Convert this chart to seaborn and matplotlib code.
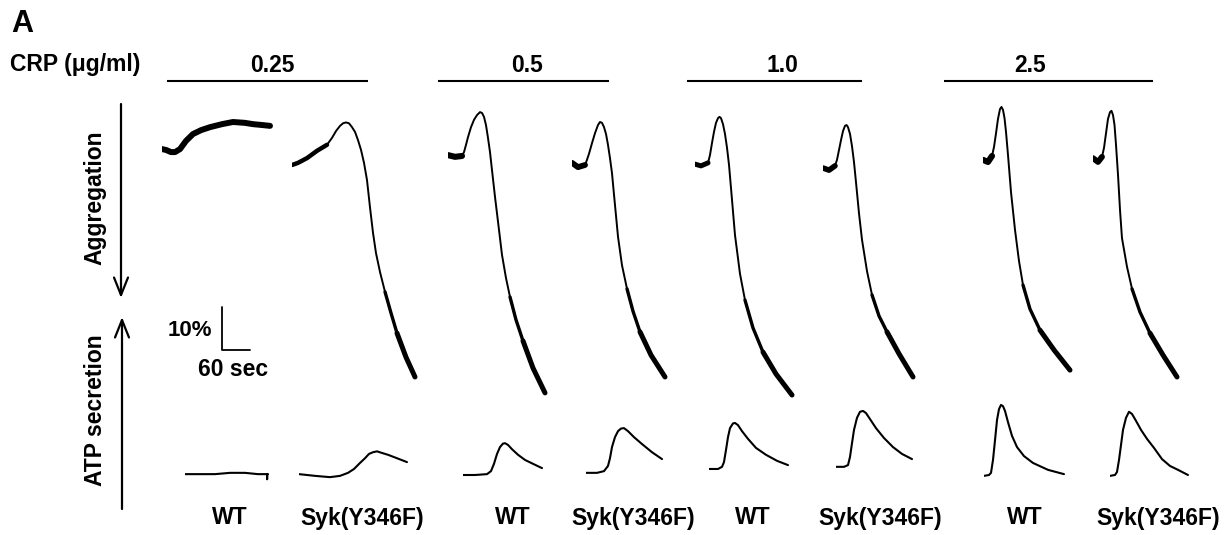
import numpy as np
import pandas as pd
import matplotlib
matplotlib.use("Agg")
import matplotlib.pyplot as plt
import seaborn as sns

# ---------------- data ----------------
concentrations = ["0.25", "0.5", "1.0", "2.5"]
genotypes = ["WT", "Syk(Y346F)"]

# Aggregation traces: time (s) and light-transmission change (%; positive = aggregation)
agg_wt_025_t = [0, 8.6, 19.3, 27.9, 38.6, 51.4, 66.4, 83.6, 102.9, 128.6, 152.1, 177.9, 195.0, 214.3, 231.4]
agg_wt_025_v = [-3.7, -3.5, -3.0, -3.0, -3.7, -5.6, -7.2, -8.1, -8.8, -9.5, -10.0, -9.8, -9.5, -9.3, -9.1]
agg_syk_025_t = [0, 12.9, 32.1, 53.6, 75.0, 85.7, 94.3, 102.9, 109.3, 115.7, 122.1, 128.6, 135.0,
                 141.4, 147.9, 154.3, 160.7, 167.1, 173.6, 180.0, 188.6, 199.3, 212.1, 225.0, 244.3, 263.6]
agg_syk_025_v = [0, -0.5, -1.6, -3.3, -4.7, -6.3, -7.9, -9.1, -9.7, -9.9, -9.7, -8.8, -7.7,
                 -5.8, -3.5, -0.5, 3.5, 9.8, 15.8, 20.5, 24.9, 29.5, 34.4, 39.1, 44.7, 49.3]
agg_wt_05_t = [0, 15.0, 30.0, 34.3, 38.6, 42.9, 49.3, 55.7, 62.1, 68.6, 72.9, 77.1, 81.4, 85.7,
               90.0, 94.3, 100.7, 109.3, 115.7, 124.3, 132.9, 145.7, 160.7, 182.1, 207.9]
agg_wt_05_v = [-2.3, -1.9, -2.1, -3.0, -4.7, -6.5, -8.8, -10.5, -11.6, -12.3, -12.1, -11.2, -9.3, -6.3,
               -3.0, 1.2, 7.4, 15.1, 20.9, 26.3, 30.7, 36.0, 40.9, 47.2, 53.0]
agg_syk_05_t = [0, 12.9, 27.9, 32.1, 36.4, 42.9, 49.3, 55.7, 60.0, 64.3, 68.6, 72.9, 77.1, 81.4,
                85.7, 92.1, 98.6, 107.1, 117.9, 130.7, 145.7, 169.3, 199.3]
agg_syk_05_v = [-0.5, 0.5, 0, -1.2, -2.6, -5.1, -7.4, -9.3, -10.0, -9.8, -8.8, -7.2, -4.7, -1.6,
                1.9, 9.3, 16.7, 23.3, 28.8, 34.0, 38.8, 44.2, 49.3]
agg_wt_10_t = [0, 12.9, 27.9, 32.1, 36.4, 40.7, 45.0, 49.3, 52.5, 55.7, 60.0, 64.3, 68.6, 72.9,
               77.1, 85.7, 96.4, 107.1, 124.3, 145.7, 173.6, 207.9]
agg_wt_10_v = [-0.2, 0.2, -0.5, -2.3, -5.1, -7.7, -9.8, -10.9, -11.2, -10.9, -9.5, -7.2, -4.0, 0,
               5.3, 16.3, 25.3, 31.4, 37.9, 43.5, 48.6, 53.5]
agg_syk_10_t = [0, 12.9, 25.7, 30.0, 34.3, 38.6, 42.9, 47.1, 50.4, 53.6, 57.9, 62.1, 66.4, 70.7,
                77.1, 83.6, 94.3, 105.0, 120.0, 137.1, 162.9, 192.9]
agg_syk_10_v = [0.7, 1.2, 0.2, -1.2, -3.5, -5.8, -7.9, -9.1, -9.3, -8.8, -7.2, -4.4, -0.7, 4.0,
                11.2, 17.4, 24.7, 30.2, 35.1, 38.8, 43.9, 49.3]
agg_wt_25_t = [0, 10.7, 19.3, 23.6, 27.9, 32.1, 36.4, 39.6, 42.9, 46.1, 49.3, 53.6, 60.0, 68.6,
               77.1, 85.7, 100.7, 122.1, 152.1, 186.4]
agg_wt_25_v = [-1.2, -0.7, -2.1, -4.2, -7.4, -10.7, -13.0, -13.5, -12.8, -10.9, -7.7, -2.3, 6.3, 15.1,
               22.3, 27.9, 33.5, 38.4, 43.0, 47.7]
agg_syk_25_t = [0, 10.7, 19.3, 23.6, 27.9, 32.1, 36.4, 39.6, 42.9, 46.1, 49.3, 53.6, 57.9, 62.1,
                72.9, 83.6, 100.7, 122.1, 150.0, 180.0]
agg_syk_25_v = [-1.6, -0.7, -1.9, -4.0, -7.4, -10.7, -12.3, -12.6, -11.6, -9.3, -4.7, 2.3, 10.5, 17.0,
                23.7, 28.8, 34.2, 39.1, 44.2, 49.3]

# ATP secretion traces: time (s) and luminescence (arbitrary units)
atp_wt_025_t = [0, 32.1, 64.3, 96.4, 128.6, 156.4, 175.7, 176.0, 176.3, 177.9]
atp_wt_025_v = [0.2, 0.2, 0.2, 0.5, 0.5, 0.2, 0.2, -1.0, 0.2, 0.2]
atp_syk_025_t = [0, 34.3, 66.4, 87.9, 105.0, 117.9, 130.7, 141.4, 150.0, 158.6, 167.1, 175.7, 190.7, 210.0, 231.4]
atp_syk_025_v = [0.2, -0.2, -0.5, -0.2, 0.5, 1.4, 2.8, 3.9, 4.9, 5.3, 5.5, 5.2, 4.7, 3.9, 3.0]
atp_wt_05_t = [0, 25.7, 51.4, 60.0, 66.4, 72.9, 79.3, 85.7, 90.0, 96.4, 105.0, 117.9, 132.9, 150.0, 169.3]
atp_wt_05_v = [0, 0, 0.2, 0.9, 2.6, 4.9, 6.5, 7.3, 7.4, 7.0, 6.0, 4.7, 3.5, 2.6, 1.6]
atp_syk_05_t = [0, 23.6, 38.6, 47.1, 51.4, 55.7, 62.1, 68.6, 75.0, 81.4, 90.0, 102.9, 120.0, 141.4, 162.9]
atp_syk_05_v = [0.5, 0.5, 0.9, 2.1, 3.9, 6.5, 8.8, 10.2, 10.8, 10.9, 10.2, 8.8, 7.2, 5.3, 3.7]
atp_wt_10_t = [0, 19.3, 27.9, 32.1, 36.4, 40.7, 45.0, 51.4, 55.7, 62.1, 70.7, 83.6, 100.7, 122.1, 145.7, 169.3]
atp_wt_10_v = [1.4, 1.4, 1.9, 3.0, 5.8, 8.8, 10.9, 12.0, 12.1, 11.6, 10.2, 8.4, 6.3, 4.7, 3.3, 2.3]
atp_syk_10_t = [0, 17.1, 25.7, 30.0, 34.3, 38.6, 45.0, 51.4, 57.9, 64.3, 72.9, 85.7, 102.9, 122.1, 141.4, 162.9]
atp_syk_10_v = [1.9, 1.9, 2.3, 4.2, 7.4, 10.5, 13.3, 14.7, 14.9, 14.4, 13.0, 10.9, 8.6, 6.5, 4.9, 3.7]
atp_wt_25_t = [0, 10.7, 15.0, 19.3, 23.6, 27.9, 32.1, 36.4, 40.7, 45.0, 51.4, 60.0, 70.7, 85.7, 105.0, 137.1, 171.4]
atp_wt_25_v = [-0.2, 0, 0.5, 3.5, 8.1, 12.8, 15.3, 16.3, 16.0, 14.9, 12.3, 9.1, 6.5, 4.4, 2.8, 1.2, 0.2]
atp_syk_25_t = [0, 10.7, 15.0, 19.3, 23.6, 27.9, 34.3, 40.7, 47.1, 55.7, 66.4, 79.3, 94.3, 111.4, 128.6, 145.7, 167.1]
atp_syk_25_v = [-0.2, 0, 0.7, 3.5, 7.0, 10.5, 13.3, 14.7, 14.2, 12.6, 10.5, 8.4, 6.3, 3.7, 2.1, 1.2, 0]

agg_traces = [(agg_wt_025_t, agg_wt_025_v), (agg_syk_025_t, agg_syk_025_v),
              (agg_wt_05_t, agg_wt_05_v), (agg_syk_05_t, agg_syk_05_v),
              (agg_wt_10_t, agg_wt_10_v), (agg_syk_10_t, agg_syk_10_v),
              (agg_wt_25_t, agg_wt_25_v), (agg_syk_25_t, agg_syk_25_v)]
atp_traces = [(atp_wt_025_t, atp_wt_025_v), (atp_syk_025_t, atp_syk_025_v),
              (atp_wt_05_t, atp_wt_05_v), (atp_syk_05_t, atp_syk_05_v),
              (atp_wt_10_t, atp_wt_10_v), (atp_syk_10_t, atp_syk_10_v),
              (atp_wt_25_t, atp_wt_25_v), (atp_syk_25_t, atp_syk_25_v)]

# ---------------- layout / style ----------------
sns.set_theme(style="white")
plt.rcParams["font.family"] = ["Liberation Sans", "DejaVu Sans"]
plt.rcParams["font.weight"] = "bold"
plt.rcParams["text.color"] = "black"

W, H = 1231, 535
fig = plt.figure(figsize=(W / 100, H / 100), dpi=100)
ann = fig.add_axes([0, 0, 1, 1])
ann.set_xlim(0, W)
ann.set_ylim(H, 0)
ann.axis("off")

PX_PER_S = 28 / 60.0
PX_PER_UNIT = 43 / 10.0
AGG_TOP, AGG_BOT, AGG_BASE = 90, 410, 165
ATP_TOP, ATP_BOT, ATP_BASE = 390, 492, 475
AX_W = 170

agg_x0 = [162, 292, 448, 572, 695, 823, 983, 1093]
atp_x0 = [185, 299, 463, 586, 709, 836, 984, 1110]
label_x = [230, 362, 513, 633, 753, 880, 1025, 1158]
head_n = [15, 5, 3, 3, 3, 3, 3, 3]      # points in noisy baseline segment
head_lw = [4.3, 3.2, 4.4, 4.2, 3.6, 4.0, 4.4, 4.2]
tail_n = [0, 5, 5, 5, 5, 5, 5, 5]

def trace_ax(x0, top, bot):
    ax = fig.add_axes([x0 / W, 1 - bot / H, AX_W / W, (bot - top) / H])
    ax.set_xlim(0, AX_W / PX_PER_S)
    ax.axis("off")
    ax.patch.set_alpha(0)
    return ax

def draw(ax, t, v, lw):
    df = pd.DataFrame({"t": t, "v": v})
    sns.lineplot(data=df, x="t", y="v", ax=ax, color="black", linewidth=lw,
                 sort=False, estimator=None, solid_joinstyle="round",
                 solid_capstyle="round")

for i, (t, v) in enumerate(agg_traces):
    ax = trace_ax(agg_x0[i], AGG_TOP, AGG_BOT)
    ax.set_ylim((AGG_BOT - AGG_BASE) / PX_PER_UNIT, (AGG_TOP - AGG_BASE) / PX_PER_UNIT)
    draw(ax, t, v, 1.4)
    hn = head_n[i]
    draw(ax, t[:hn], v[:hn], head_lw[i])
    tn = tail_n[i]
    if tn:
        draw(ax, t[-tn:], v[-tn:], 2.4)
        draw(ax, t[-3:], v[-3:], 3.6)

for i, (t, v) in enumerate(atp_traces):
    ax = trace_ax(atp_x0[i], ATP_TOP, ATP_BOT)
    ax.set_ylim((ATP_BASE - ATP_BOT) / PX_PER_UNIT, (ATP_BASE - ATP_TOP) / PX_PER_UNIT)
    draw(ax, t, v, 1.5)

# ---------------- annotations ----------------
FS = 16.5
ann.text(11, 24, "A", fontsize=22, fontweight="bold", ha="left", va="center")
ann.text(10, 65, "CRP (\u03bcg/ml)", fontsize=FS, fontweight="bold", ha="left", va="center")

bar_spans = [(167, 368), (438, 609), (687, 862), (944, 1153)]
conc_x = [272, 527, 782, 1030]
for (x1, x2), cx, c in zip(bar_spans, conc_x, concentrations):
    ann.plot([x1, x2], [81, 81], color="black", lw=1.5, solid_capstyle="butt")
    ann.text(cx, 65, c, fontsize=FS, fontweight="bold", ha="center", va="center")

for i, lx in enumerate(label_x):
    ann.text(lx, 518, genotypes[i % 2], fontsize=FS, fontweight="bold",
             ha="center", va="center")

arrow_style = "->,head_length=0.7,head_width=0.28"
ann.annotate("", xy=(121, 298), xytext=(121, 104),
             arrowprops=dict(arrowstyle=arrow_style, lw=1.6, color="black",
                             mutation_scale=18, shrinkA=0, shrinkB=0))
ann.annotate("", xy=(122, 317), xytext=(122, 509),
             arrowprops=dict(arrowstyle=arrow_style, lw=1.6, color="black",
                             mutation_scale=18, shrinkA=0, shrinkB=0))
ann.text(95, 198, "Aggregation", fontsize=FS, fontweight="bold", rotation=90,
         ha="center", va="center")
ann.text(95, 410, "ATP secretion", fontsize=FS, fontweight="bold", rotation=90,
         ha="center", va="center")

# scale bar: 10 % / 60 s
ann.plot([222, 222, 250], [307, 350, 350], color="black", lw=1.3)
ann.text(212, 331, "10%", fontsize=FS - 0.5, fontweight="bold", ha="right", va="center")
ann.text(233, 370, "60 sec", fontsize=FS, fontweight="bold", ha="center", va="center")

fig.savefig("out.png", dpi=100, facecolor="white")
